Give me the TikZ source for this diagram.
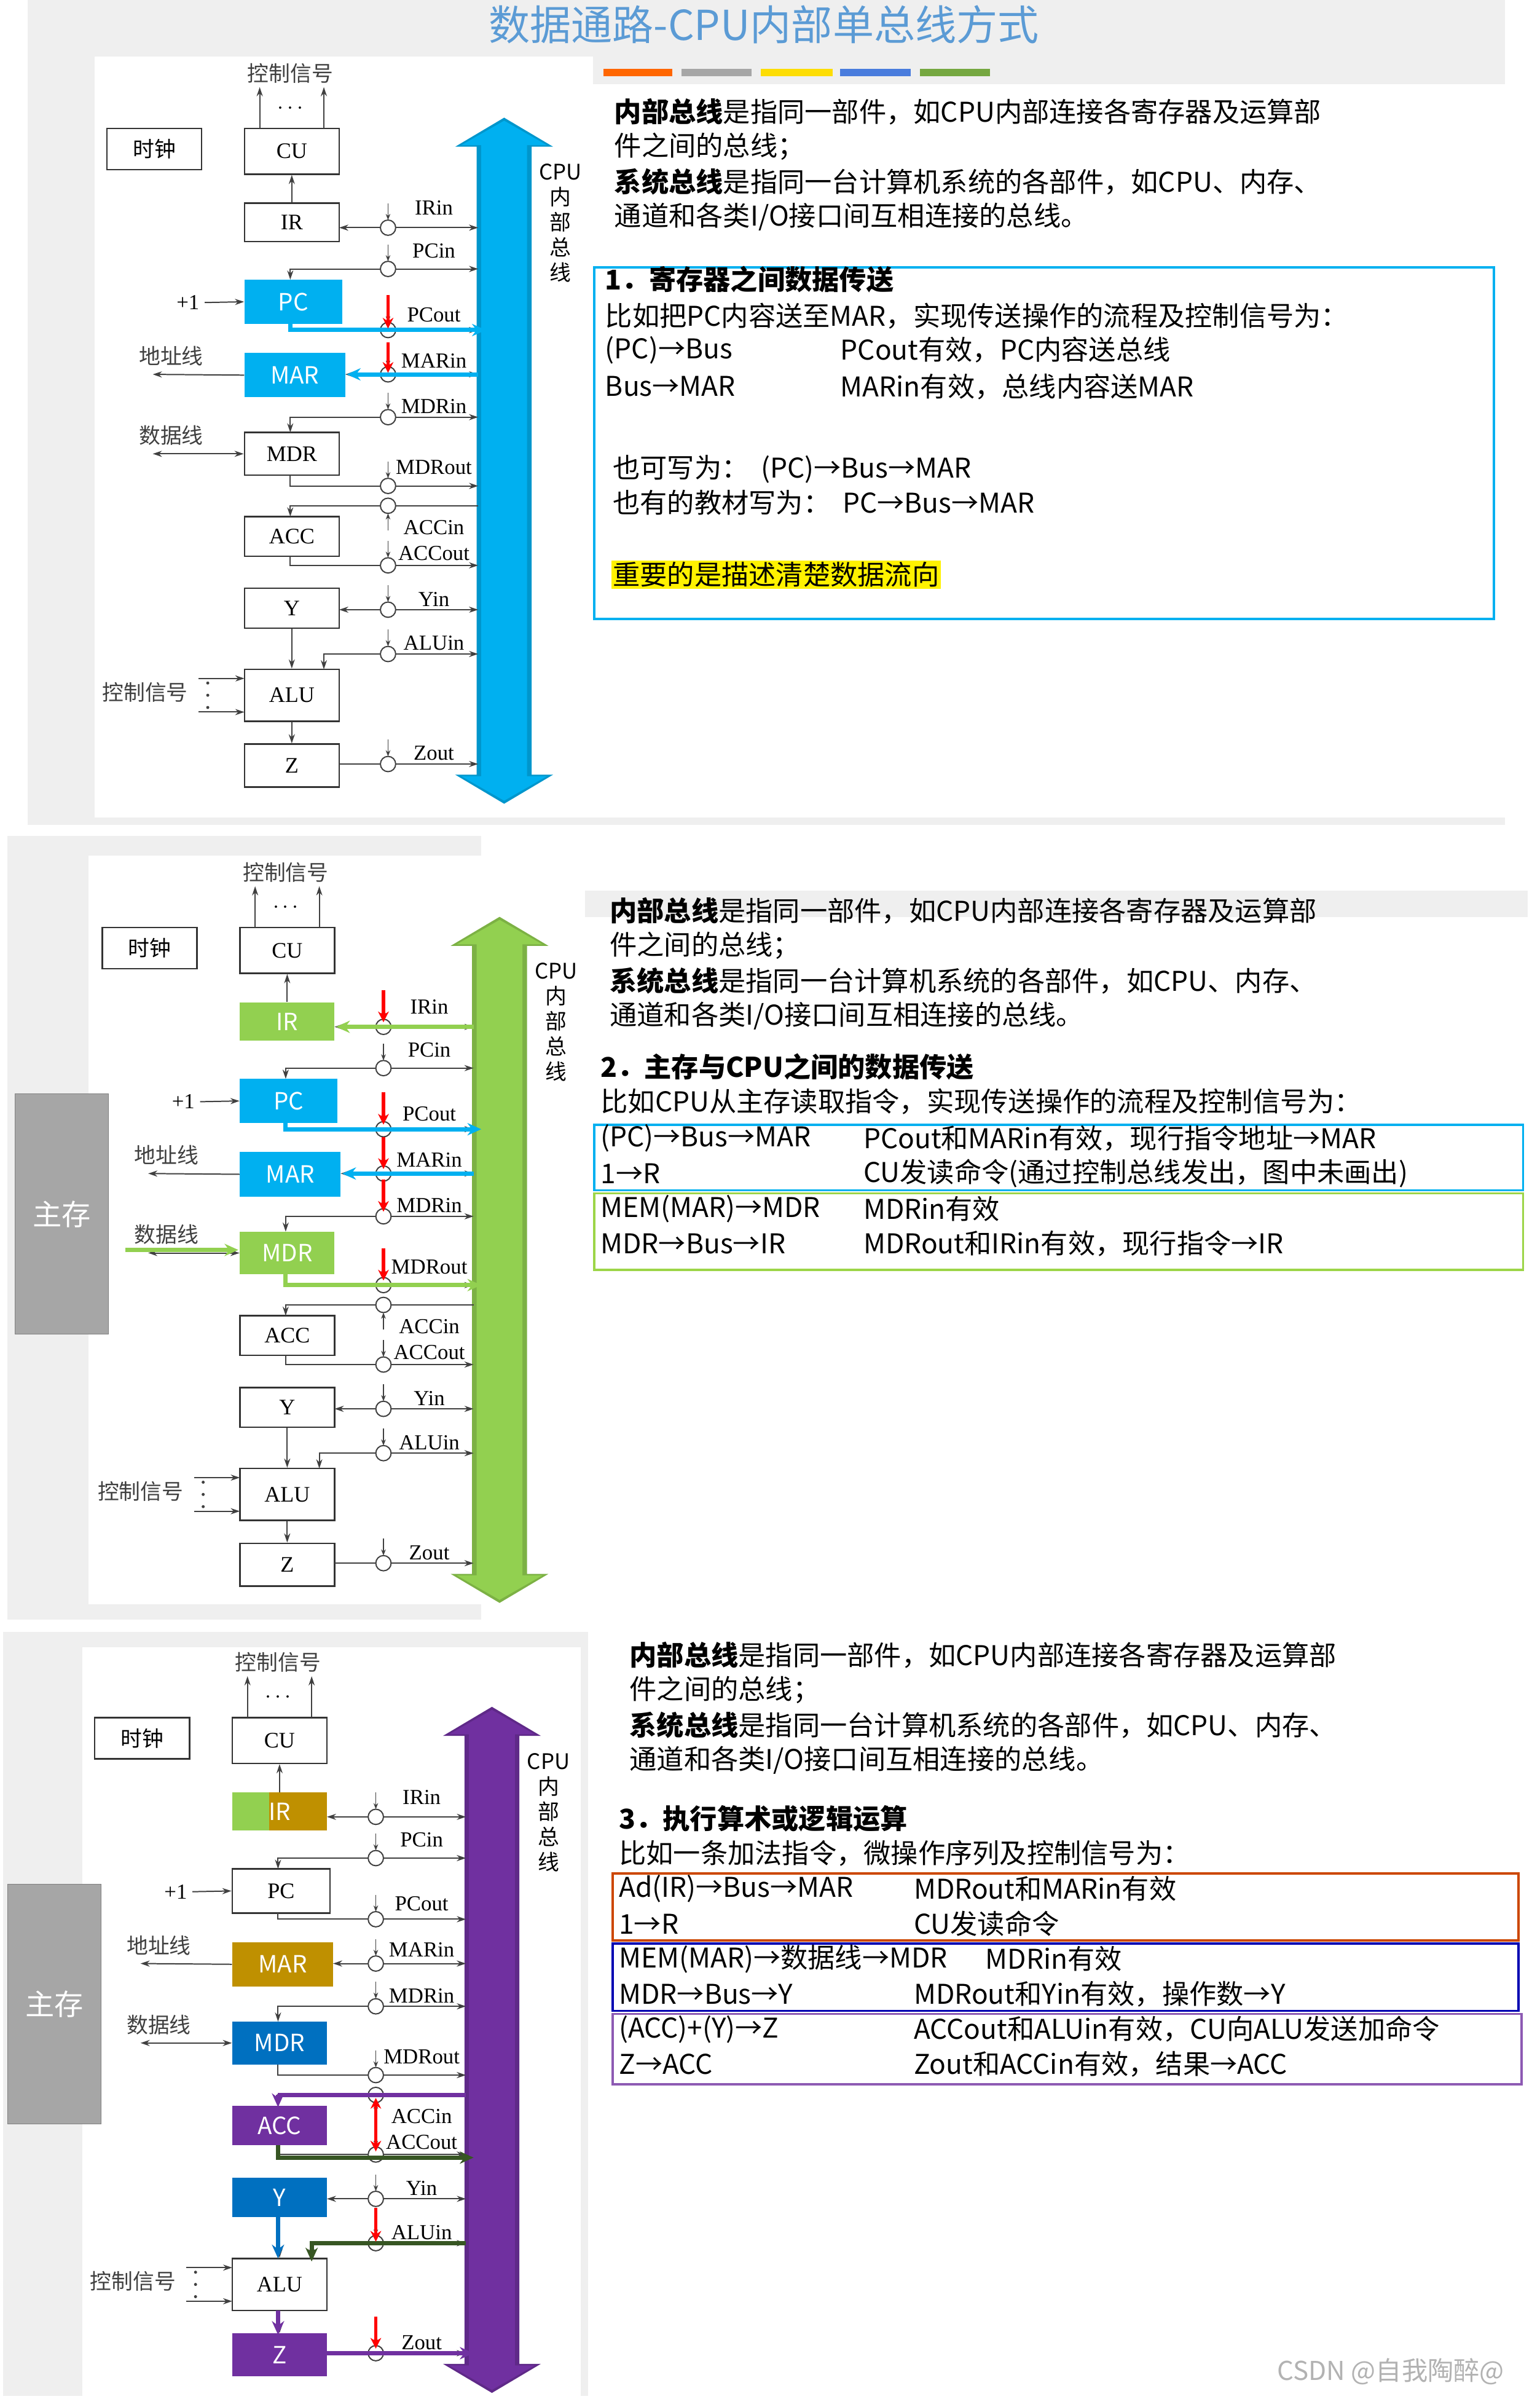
\documentclass[tikz,border=0pt]{standalone}
\usepackage{fontspec}
\setmainfont{Liberation Serif}
\newfontfamily\cjk{Noto Sans CJK SC}
\usetikzlibrary{arrows.meta}
\definecolor{busblue}{HTML}{00B0F0}
\definecolor{lgreen}{HTML}{92D050}
\definecolor{gold}{HTML}{BF9000}
\definecolor{mblue}{HTML}{0070C0}
\definecolor{purp}{HTML}{7030A0}
\definecolor{dgreen}{HTML}{375623}
\definecolor{titleblue}{HTML}{5B9BD5}
\definecolor{bgray}{HTML}{EFEFEF}
\tikzset{
 wbox/.style={draw=black!80,fill=white,line width=1pt,font=\fontsize{14.5}{16}\selectfont,inner sep=0pt},
 cbox/.style={fill=#1,draw=none,text=white,font=\cjk\fontsize{15.5}{17}\selectfont,inner sep=0pt},
 ln/.style={draw=black!75,line width=0.8pt},
 tip/.style={-{Stealth[length=6pt,width=4pt]}},
 dtip/.style={{Stealth[length=6pt,width=4pt]}-{Stealth[length=6pt,width=4pt]}},
 ctl/.style={draw=black!75,line width=0.7pt,-{Stealth[length=4pt,width=3pt]}},
 circ/.style={circle,draw=black!75,fill=white,line width=0.8pt,minimum size=10pt,inner sep=0pt},
 lab/.style={font=\fontsize{14}{16}\selectfont},
 clab/.style={font=\cjk\fontsize{14}{16}\selectfont,text=black!75},
 hi/.style={line width=2.8pt,-{Stealth[length=9pt,width=8pt]}},
 red/.style={draw=red,line width=2.2pt,-{Stealth[length=7pt,width=7pt]},color=red},
 txt/.style={anchor=west,font=\cjk\fontsize{17.8}{20}\selectfont,inner sep=0pt},
 pcbox/.style={wbox},irbox/.style={wbox},marbox/.style={wbox},mdrbox/.style={wbox},
 accbox/.style={wbox},ybox/.style={wbox},zbox/.style={wbox},
}
\newcommand\datapath[1]{%
 \fill[#1!85!black] (298,96)--(330,77)--(362,96)--(348,96)--(348,507)--(362,507)--(330,526)--(298,507)--(312,507)--(312,96)--cycle;
 \fill[#1] (302,95)--(330,79)--(358,95)--(345,95)--(345,508)--(358,508)--(330,524)--(302,508)--(315,508)--(315,95)--cycle;
 \node[align=center,lab,font=\cjk\fontsize{14}{16.5}\selectfont] (buslab) at (367,146) {CPU\\内\\部\\总\\线};
 \node[wbox,font=\cjk\fontsize{14}{16}\selectfont,minimum width=62pt,minimum height=27pt] (clk) at (101,97.5) {时钟};
 \node[wbox,minimum width=62pt,minimum height=30pt] (cu) at (191,99) {CU};
 \node[irbox,minimum width=62pt,minimum height=25pt] (ir) at (191,145.5) {IR};
 \node[pcbox,minimum width=64pt,minimum height=29pt] (pc) at (192,197.5) {PC};
 \node[marbox,minimum width=66pt,minimum height=29pt] (mar) at (193,245.5) {MAR};
 \node[mdrbox,minimum width=62pt,minimum height=28pt] (mdr) at (191,297) {MDR};
 \node[accbox,minimum width=62pt,minimum height=26pt] (acc) at (191,351) {ACC};
 \node[ybox,minimum width=62pt,minimum height=26pt] (y) at (191,398) {Y};
 \node[wbox,minimum width=62pt,minimum height=34pt] (alu) at (191,455) {ALU};
 \node[zbox,minimum width=62pt,minimum height=28pt] (z) at (191,501) {Z};
 \node[clab] (ctop) at (190,48) {控制信号};
 \node[lab] (dots) at (190,71) {$\cdots$};
 \draw[ln,tip] (170,84)--(170,57); \draw[ln,tip] (212,84)--(212,57);
 \draw[ln,tip] (ir.north)--(cu.south);
 \node[lab] (p1) at (123,198) {+1}; \draw[ln,tip] (p1.east)--(pc.west);
 \node[clab] (addr) at (112,233) {地址线}; \coordinate (addrE) at (100,245); \draw[ln,tip] (mar.west)--(addrE);
 \node[clab] (data) at (112,285) {数据线}; \coordinate (dataE) at (100,297); \draw[ln,dtip] (dataE)--(mdr.west);
 \node[clab] (cs) at (95,453) {控制信号};
 \draw[ln,tip] (130,444)--(160,444); \draw[ln,tip] (130,466)--(160,466);
 \fill[black!75] (136,447) circle (1pt) (136,455) circle (1pt) (136,463) circle (1pt);
 \draw[ln,tip] (y.south)--(alu.north); \draw[ln,tip] (alu.south)--(z.north);
 \draw[ln,dtip] (222,149)--(313,149);
 \draw[ln,dtip] (190,183)--(190,176)--(313,176);
 \draw[ln,tip] (190,212)--(190,216)--(313,216);
 \draw[ln,dtip] (226,245)--(313,245);
 \draw[ln,dtip] (190,283)--(190,273)--(313,273);
 \draw[ln,tip] (190,311)--(190,318)--(313,318);
 \draw[ln,{Stealth[length=6pt,width=4pt]}-] (190,338)--(190,331)--(313,331);
 \draw[ln,tip] (190,364)--(190,370)--(313,370);
 \draw[ln,dtip] (222,399)--(313,399);
 \draw[ln,dtip] (212,438)--(212,428)--(313,428);
 \draw[ln,tip] (222,500)--(313,500);
 \foreach \yy/\nm in {149/irin,176/pcin,216/pcout,245/marin,273/mdrin,318/mdrout,331/accin,370/accout,399/yin,428/aluin,500/zout}
   {\node[circ] (c\nm) at (254,\yy) {}; }
 \foreach \yy in {149,176,216,245,273,318,399,428,500} {\draw[ctl] (254,\yy-16)--(254,\yy-5);}
 \draw[ctl] (254,347)--(254,336); \draw[ctl] (254,354)--(254,365);
 \foreach \yy/\t in {136/IRin,164/PCin,206/PCout,236/MARin,266/MDRin,306/MDRout,345/ACCin,362/ACCout,392/Yin,421/ALUin,493/Zout}
   {\node[lab] at (284,\yy) {\t};}
}
\begin{document}
\begin{tikzpicture}[x=1pt,y=-1pt]
\useasboundingbox (0,0) rectangle (1008,1570);
\fill[white] (0,0) rectangle (1008,1570);
% backgrounds
\fill[bgray] (18,0) rectangle (985,540);
\fill[white] (62,37) rectangle (388,535);
\fill[white] (388,55) rectangle (985,535);
\fill[bgray] (5,547) rectangle (315,1060);
\fill[white] (58,560) rectangle (383,1050);
\fill[bgray] (383,583) rectangle (1000,600);
\fill[bgray] (2,1068) rectangle (385,1568);
\fill[white] (54,1078) rectangle (380,1568);
% title
\node[font=\cjk\fontsize{27}{30}\selectfont,text=titleblue] (title) at (500,16) {数据通路-CPU内部单总线方式};
\foreach \xa/\xb/\cc in {395/440/orange!80!red,446/492/gray!70,498/545/yellow!80!orange,550/596/titleblue!80!blue,602/648/lgreen!80!black}
  {\fill[\cc] (\xa,45) rectangle (\xb,50);}
% ===== panel 1
\begin{scope}[name prefix=a-, pcbox/.style={cbox=busblue}, marbox/.style={cbox=busblue}]
 \datapath{busblue}
 \draw[busblue,hi] (190,212)--(190,216)--(318,216);
 \draw[busblue,hi] (313,245)--(227,245);
 \draw[red] (254,193)--(254,215);
 \draw[red] (254,224)--(254,244);
\end{scope}
% ===== panel 2
\begin{scope}[shift={(-3,523)},name prefix=b-, pcbox/.style={cbox=busblue}, marbox/.style={cbox=busblue}, irbox/.style={cbox=lgreen}, mdrbox/.style={cbox=lgreen}]
 \datapath{lgreen}
 \draw[lgreen,hi] (313,149)--(223,149);
 \draw[busblue,hi] (190,212)--(190,216)--(318,216);
 \draw[busblue,hi] (313,245)--(227,245);
 \draw[lgreen,hi] (190,311)--(190,318)--(318,318);
 \draw[lgreen,hi] (85,295)--(159,295);
 \foreach \yy in {149,216,245,273,318} {\draw[red] (254,\yy-24)--(254,\yy-3);}
\end{scope}
\node[fill=gray!70,draw=gray,text=white,font=\cjk\fontsize{19}{22}\selectfont,minimum width=61pt,minimum height=157pt] (mem2) at (40.5,794.5) {主存};
% ===== panel 3
\begin{scope}[shift={(-8,1040)},name prefix=c-, irbox/.style={cbox=gold,path picture={\fill[lgreen] (path picture bounding box.south west) rectangle ([xshift=24pt]path picture bounding box.north west);}}, marbox/.style={cbox=gold}, mdrbox/.style={cbox=mblue}, accbox/.style={cbox=purp}, ybox/.style={cbox=mblue}, zbox/.style={cbox=purp}]
 \datapath{purp}
 \draw[purp,line width=2.8pt] (313,331)--(190,331);
 \draw[purp,hi] (190,331)--(190,339);
 \draw[dgreen,hi] (190,364)--(190,372)--(318,372);
 \draw[mblue,hi] (190,411)--(190,438);
 \draw[dgreen,hi] (313,428)--(212,428)--(212,440);
 \draw[purp,hi] (190,472)--(190,488);
 \draw[purp,hi] (222,500)--(318,500);
 \draw[red,line width=2.2pt,{Stealth[length=7pt,width=7pt]}-{Stealth[length=7pt,width=7pt]}] (254,333)--(254,368);
 \draw[red] (254,405)--(254,427);
 \draw[red] (254,476)--(254,497);
\end{scope}
\node[fill=gray!70,draw=gray,text=white,font=\cjk\fontsize{19}{22}\selectfont,minimum width=61pt,minimum height=157pt] (mem3) at (35.5,1311.5) {主存};
% ===== text panels
\newcommand\intro[2]{%
 \node[txt] at (#1,#2) {\textbf{内部总线}是指同一部件，如CPU内部连接各寄存器及运算部};
 \node[txt] at (#1,#2+23) {件之间的总线；};
 \node[txt] at (#1,#2+46) {\textbf{系统总线}是指同一台计算机系统的各部件，如CPU、内存、};
 \node[txt] at (#1,#2+69) {通道和各类I/O接口间互相连接的总线。};}
\intro{402}{73}
\draw[busblue,line width=1.5pt] (389,175) rectangle (978,405);
\node[txt] (h1) at (396,183) {\textbf{1．寄存器之间数据传送}};
\node[txt] at (396,207) {比如把PC内容送至MAR，实现传送操作的流程及控制信号为：};
\node[txt] at (396,229) {(PC)→Bus}; \node[txt] at (550,229) {PCout有效，PC内容送总线};
\node[txt] at (396,253) {Bus→MAR}; \node[txt] at (550,253) {MARin有效，总线内容送MAR};
\node[txt] at (401,307) {也可写为：\ \ (PC)→Bus→MAR};
\node[txt] at (401,329) {也有的教材写为：\ \ PC→Bus→MAR};
\node[txt,fill=yellow,inner sep=1pt] at (400,376) {重要的是描述清楚数据流向};

\intro{399}{596}
\node[txt] at (393,698) {\textbf{2．主存与CPU之间的数据传送}};
\node[txt] at (393,721) {比如CPU从主存读取指令，实现传送操作的流程及控制信号为：};
\draw[busblue,line width=1.5pt] (389,736) rectangle (997,779);
\draw[lgreen!90!yellow,line width=1.5pt] (389,781) rectangle (997,831);
\node[txt] at (393,745) {(PC)→Bus→MAR}; \node[txt] at (565,745) {PCout和MARin有效，现行指令地址→MAR};
\node[txt] at (393,768) {1→R}; \node[txt] at (565,768) {CU发读命令(通过控制总线发出，图中未画出)};
\node[txt] at (393,791) {MEM(MAR)→MDR}; \node[txt] at (565,791) {MDRin有效};
\node[txt] at (393,814) {MDR→Bus→IR}; \node[txt] at (565,814) {MDRout和IRin有效，现行指令→IR};

\intro{412}{1083}
\node[txt] at (405,1190) {\textbf{3．执行算术或逻辑运算}};
\node[txt] at (405,1213) {比如一条加法指令，微操作序列及控制信号为：};
\draw[orange!70!red!80!black,line width=1.5pt] (401,1226) rectangle (994,1270);
\draw[blue!70!black,line width=1.5pt] (401,1272) rectangle (994,1316);
\draw[purp!80,line width=1.5pt] (401,1318) rectangle (996,1364);
\node[txt] at (405,1236) {Ad(IR)→Bus→MAR}; \node[txt] at (598,1236) {MDRout和MARin有效};
\node[txt] at (405,1259) {1→R}; \node[txt] at (598,1259) {CU发读命令};
\node[txt] at (405,1282) {MEM(MAR)→数据线→MDR}; \node[txt] at (645,1282) {MDRin有效};
\node[txt] at (405,1305) {MDR→Bus→Y}; \node[txt] at (598,1305) {MDRout和Yin有效，操作数→Y};
\node[txt] at (405,1328) {(ACC)+(Y)→Z}; \node[txt] at (598,1328) {ACCout和ALUin有效，CU向ALU发送加命令};
\node[txt] at (405,1351) {Z→ACC}; \node[txt] at (598,1351) {Zout和ACCin有效，结果→ACC};
\node[txt,text=gray!60,font=\cjk\fontsize{17}{19}\selectfont] at (836,1552) {CSDN @自我陶醉@};
\end{tikzpicture}
\end{document}
